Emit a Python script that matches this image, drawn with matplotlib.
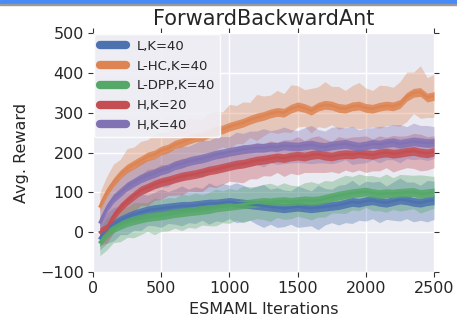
import numpy as np
import matplotlib
matplotlib.use("Agg")
import matplotlib.pyplot as plt
from matplotlib.patches import Rectangle

# iterations at which the curves are sampled
iters = list(range(50, 2501, 50))

# mean reward per method
l_k40 = [-15, 10, 20, 30, 38, 45, 50, 55, 58, 60,
         62, 64, 66, 66, 68, 70, 72, 72, 74, 76,
         74, 72, 70, 68, 66, 64, 62, 60, 62, 64,
         62, 60, 62, 64, 66, 68, 72, 76, 74, 78,
         80, 76, 74, 78, 82, 80, 76, 74, 78, 80]
lhc_k40 = [65, 100, 125, 145, 160, 170, 180, 190, 195, 205,
           210, 220, 225, 232, 238, 240, 248, 255, 258, 265,
           270, 275, 282, 288, 292, 298, 302, 300, 310, 316,
           312, 305, 315, 320, 318, 312, 310, 316, 318, 312,
           310, 315, 318, 316, 322, 340, 350, 352, 338, 342]
ldpp_k40 = [-25, -5, 10, 18, 25, 30, 34, 38, 40, 42,
            45, 48, 50, 52, 54, 56, 58, 62, 64, 66,
            68, 70, 72, 74, 76, 75, 77, 78, 76, 78,
            80, 79, 80, 84, 88, 92, 95, 98, 100, 102,
            98, 96, 98, 97, 99, 100, 101, 96, 98, 100]
h_k20 = [0, 10, 40, 62, 78, 92, 105, 112, 120, 126,
         130, 135, 140, 143, 146, 150, 155, 158, 162, 166,
         170, 172, 176, 180, 182, 185, 188, 186, 190, 192,
         190, 194, 196, 192, 190, 194, 196, 195, 198, 196,
         194, 198, 200, 197, 199, 202, 204, 200, 198, 202]
h_k40 = [25, 60, 85, 100, 115, 125, 135, 142, 148, 155,
         160, 168, 172, 178, 182, 185, 190, 195, 198, 202,
         205, 208, 210, 212, 212, 215, 214, 218, 216, 215,
         218, 220, 216, 214, 218, 220, 222, 218, 215, 218,
         222, 220, 224, 226, 222, 225, 228, 226, 224, 225]

# spread of the noisy runs around each mean
l_k40_sd = [30, 38, 42, 36, 44, 40, 46, 38, 42, 48,
            40, 44, 50, 42, 46, 40, 52, 44, 48, 42,
            50, 46, 40, 48, 54, 44, 50, 46, 42, 52,
            48, 44, 56, 46, 42, 50, 48, 54, 44, 50,
            46, 52, 42, 48, 54, 46, 50, 44, 52, 48]
lhc_k40_sd = [34, 40, 46, 38, 50, 44, 48, 42, 52, 46,
              40, 50, 44, 54, 46, 42, 52, 48, 44, 56,
              48, 52, 44, 58, 50, 46, 54, 48, 60, 52,
              46, 56, 50, 58, 48, 54, 46, 52, 58, 50,
              46, 54, 50, 48, 56, 62, 52, 66, 50, 54]
ldpp_k40_sd = [34, 40, 36, 42, 38, 44, 40, 36, 46, 40,
               42, 38, 46, 40, 44, 38, 42, 46, 40, 44,
               38, 46, 42, 40, 44, 48, 40, 46, 42, 38,
               44, 48, 42, 46, 40, 44, 48, 42, 46, 40,
               44, 42, 48, 40, 46, 44, 42, 48, 44, 40]
h_k20_sd = [32, 38, 42, 36, 44, 40, 38, 46, 40, 44,
            38, 42, 46, 40, 44, 48, 40, 46, 42, 38,
            44, 48, 42, 46, 40, 44, 38, 46, 42, 48,
            40, 44, 46, 42, 38, 46, 40, 44, 42, 46,
            40, 44, 38, 46, 42, 40, 44, 46, 42, 40]
h_k40_sd = [30, 36, 40, 38, 42, 36, 44, 40, 38, 42,
            46, 40, 44, 38, 42, 46, 40, 44, 42, 38,
            46, 40, 44, 42, 48, 40, 44, 46, 42, 40,
            44, 48, 42, 40, 46, 44, 40, 48, 42, 44,
            40, 46, 42, 44, 48, 40, 46, 42, 44, 40]

labels = ["L,K=40", "L-HC,K=40", "L-DPP,K=40", "H,K=20", "H,K=40"]
means = [l_k40, lhc_k40, ldpp_k40, h_k20, h_k40]
spreads = [l_k40_sd, lhc_k40_sd, ldpp_k40_sd, h_k20_sd, h_k40_sd]
colors = ["#4C72B0", "#DD8452", "#55A868", "#C44E52", "#8172B3"]

plt.rcParams["font.family"] = "DejaVu Sans"
fig = plt.figure(figsize=(4.57, 3.21), dpi=100)
ax = fig.add_axes([0.2035, 0.1526, 0.7462, 0.7444])
ax.set_facecolor("#EAEAF2")
for s in ax.spines.values():
    s.set_visible(False)
ax.grid(True, color="white", linewidth=1.0)
ax.set_axisbelow(True)

x = np.array(iters)
# light band for the spread of all runs
for m, sd, c in zip(means, spreads, colors):
    m = np.array(m, dtype=float)
    sd = np.array(sd, dtype=float)
    ax.fill_between(x, m - sd, m + sd, color=c, alpha=0.35, linewidth=0)
# darker band for the averaged curve
for m, c, lab in zip(means, colors, labels):
    m = np.array(m, dtype=float)
    ax.fill_between(x, m - 11, m + 11, color=c, alpha=0.85, linewidth=0)
    ax.plot(x, m, color=c, linewidth=1.8, label=lab)

ax.set_xlim(0, 2500)
ax.set_ylim(-100, 500)
ax.set_xticks([0, 500, 1000, 1500, 2000, 2500])
ax.set_yticks([-100, 0, 100, 200, 300, 400, 500])
ax.tick_params(direction="out", top=True, right=True, length=3.5,
               color="#333333", labelsize=11.5, labelcolor="#262626", pad=3)
ax.set_xlabel("ESMAML Iterations", fontsize=11.5, color="#262626", labelpad=4)
ax.set_ylabel("Avg. Reward", fontsize=11.5, color="#262626", labelpad=8)
ax.set_title("ForwardBackwardAnt", fontsize=15, color="#262626", pad=6)

leg = ax.legend(loc="upper left", fontsize=9.5, frameon=True, borderaxespad=0.1,
                facecolor="#EEEEF4", edgecolor="white", framealpha=0.9,
                handlelength=2.0, handletextpad=0.8, labelspacing=0.52)
for h in leg.get_lines():
    h.set_linewidth(6)
    h.set_solid_capstyle("round")
    h.set_alpha(1.0)
for t in leg.get_texts():
    t.set_color("#262626")

# window bar across the top edge
fig.patches.append(Rectangle((0, 1 - 4 / 321), 1, 4 / 321, transform=fig.transFigure,
                             color="#4A8AF4", zorder=10))
fig.patches.append(Rectangle((0, 1 - 5 / 321), 1, 1 / 321, transform=fig.transFigure,
                             color="#9A9A9A", zorder=10))

fig.savefig("out.png", dpi=100)
